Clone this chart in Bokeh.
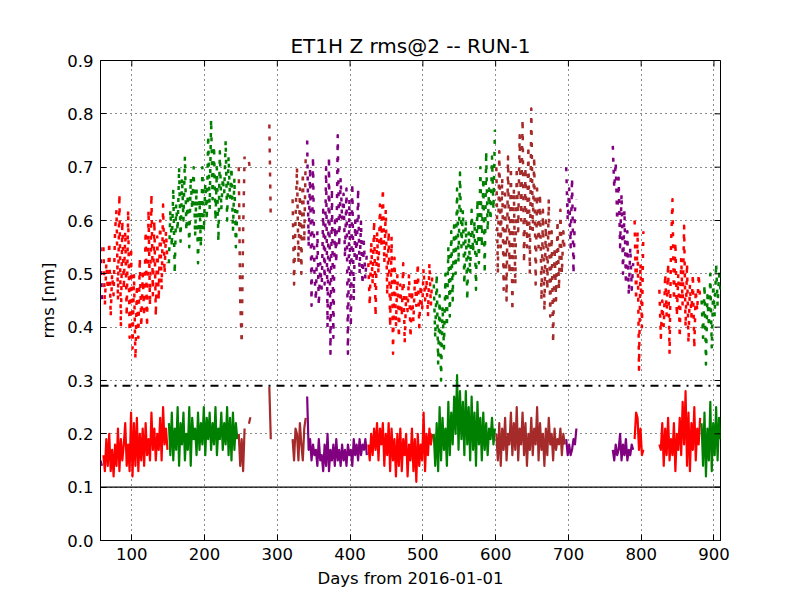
from math import pi

from bokeh.plotting import figure
from bokeh.models import Span, FixedTicker, PrintfTickFormatter, Range1d
from bokeh.embed import file_html
from bokeh.resources import INLINE

TITLE = "ET1H Z rms@2 -- RUN-1"
X_LABEL = "Days from 2016-01-01"
Y_LABEL = "rms [nm]"
x_ticks = [100, 200, 300, 400, 500, 600, 700, 800, 900]
y_ticks = [0.0, 0.1, 0.2, 0.3, 0.4, 0.5, 0.6, 0.7, 0.8, 0.9]
x_limits = (57, 909)
y_limits = (0.0, 0.9)
req_level = 0.1      # solid black line
warn_level = 0.29    # dash-dot black line
DAY_STEP = 2

RED, GREEN, BROWN, PURPLE = "#ff0000", "#008000", "#a52a2a", "#800080"

# --- segment start days (days from 2016-01-01) ---
purple_a_start, red_b_start, green_c_start = 57, 61, 151
brown_d1_start, brown_d2_start, brown_d3_start = 247, 261, 289
brown_e_start, purple_f_start, red_g_start = 321, 341, 425
green_h_start, brown_i_start, purple_j_start = 515, 601, 697
purple_k_start, red_l_start, red_m_start, green_n_start = 761, 791, 825, 883

# --- upper (dashed) series ---
purple_a_up = [0.55, 0.45]
red_b_up = [0.55, 0.44, 0.52, 0.47, 0.56, 0.42, 0.50, 0.46, 0.58,
            0.62, 0.45, 0.65, 0.40, 0.60, 0.47,
            0.58, 0.42, 0.62, 0.38, 0.55,
            0.36, 0.50, 0.34, 0.48, 0.38, 0.53, 0.40, 0.50,
            0.42, 0.58, 0.40, 0.62, 0.44, 0.65, 0.46, 0.60,
            0.42, 0.57, 0.45, 0.60, 0.47, 0.63, 0.50, 0.58, 0.52]
green_c_up = [0.52, 0.62, 0.55, 0.66, 0.50, 0.63, 0.58, 0.70, 0.56, 0.68,
              0.60, 0.72, 0.58, 0.65, 0.55, 0.68, 0.62, 0.70, 0.57, 0.66,
              0.52, 0.64, 0.55, 0.70, 0.58, 0.67, 0.60, 0.76, 0.62, 0.79,
              0.64, 0.74, 0.60, 0.70, 0.56, 0.73, 0.62, 0.68, 0.65, 0.75,
              0.60, 0.72, 0.64, 0.70, 0.58, 0.68, 0.55, 0.62]
brown_d1_up = [0.70, 0.45, 0.37, 0.58, 0.72]
brown_d2_up = [0.71, 0.69]
brown_d3_up = [0.78, 0.60]
brown_e_up = [0.64, 0.48, 0.60, 0.70, 0.52, 0.66, 0.50, 0.69, 0.56, 0.72]
purple_f_up = [0.75, 0.55, 0.70, 0.44, 0.72,
               0.50, 0.45, 0.58, 0.44, 0.52, 0.47, 0.62,
               0.48, 0.70, 0.40, 0.72, 0.35, 0.66, 0.38, 0.60,
               0.52, 0.76, 0.55, 0.68, 0.60, 0.65, 0.53, 0.66,
               0.35, 0.64, 0.40, 0.67, 0.45, 0.60, 0.52, 0.66,
               0.50, 0.60, 0.48, 0.56, 0.49, 0.54]
red_g_up = [0.52, 0.44, 0.56, 0.48, 0.60, 0.42, 0.58, 0.50, 0.63, 0.55,
            0.66, 0.52, 0.62, 0.46, 0.58, 0.40, 0.57, 0.35, 0.53, 0.40,
            0.50, 0.38, 0.48, 0.42, 0.52, 0.37, 0.46, 0.43, 0.50, 0.38,
            0.47, 0.41, 0.49, 0.44, 0.52, 0.40, 0.48, 0.43, 0.51, 0.45,
            0.49, 0.42, 0.52, 0.44, 0.50]
green_h_up = [0.48, 0.38, 0.50, 0.33, 0.46, 0.30, 0.44, 0.36, 0.50, 0.40,
              0.55, 0.42, 0.58, 0.45, 0.60, 0.50, 0.66, 0.52, 0.69, 0.55,
              0.62, 0.48, 0.60, 0.45, 0.58, 0.50, 0.62, 0.54, 0.60, 0.47,
              0.64, 0.52, 0.70, 0.55, 0.68, 0.50, 0.73, 0.58, 0.66, 0.60,
              0.72, 0.62, 0.77]
brown_i_up = [0.70, 0.50, 0.73, 0.55, 0.68, 0.47, 0.66,
              0.45, 0.72, 0.50, 0.70, 0.43, 0.66, 0.48, 0.70,
              0.58, 0.76, 0.60, 0.79, 0.52, 0.70, 0.55, 0.74,
              0.50, 0.81, 0.58, 0.72, 0.48, 0.66, 0.55, 0.65,
              0.45, 0.62, 0.43, 0.60, 0.47, 0.64, 0.42, 0.58,
              0.37, 0.55, 0.45, 0.60, 0.47, 0.62, 0.50, 0.58, 0.54]
purple_j_up = [0.70, 0.60, 0.66, 0.55, 0.68, 0.50, 0.62, 0.64]
purple_k_up = [0.74, 0.66, 0.71, 0.60, 0.68, 0.55, 0.65, 0.50, 0.62, 0.48,
               0.58, 0.46, 0.55, 0.47, 0.52]
red_l_up = [0.60, 0.45, 0.58, 0.32, 0.52, 0.40, 0.58]
red_m_up = [0.47, 0.38, 0.45, 0.40, 0.50, 0.42, 0.52, 0.35, 0.55, 0.64,
            0.45, 0.56, 0.42, 0.50, 0.38, 0.53, 0.44, 0.59, 0.40, 0.52,
            0.37, 0.48, 0.42, 0.50, 0.36, 0.47, 0.43, 0.50, 0.45]
green_n_up = [0.45, 0.38, 0.48, 0.33, 0.46, 0.40, 0.50, 0.36, 0.48, 0.42,
              0.52, 0.44, 0.50, 0.47]

# --- lower (solid) series ---
purple_a_lo = [0.15, 0.14]
red_b_lo = [0.16, 0.13, 0.19, 0.14, 0.20, 0.13, 0.17, 0.12, 0.18,
            0.14, 0.21, 0.13, 0.19, 0.15, 0.18,
            0.22, 0.14, 0.18, 0.13, 0.24,
            0.12, 0.22, 0.14, 0.23, 0.13, 0.20, 0.15, 0.21,
            0.14, 0.22, 0.16, 0.19, 0.15, 0.24, 0.17, 0.21,
            0.15, 0.20, 0.17, 0.23, 0.15, 0.25, 0.18, 0.21, 0.17]
green_c_lo = [0.22, 0.16, 0.24, 0.15, 0.21, 0.17, 0.25, 0.14, 0.22, 0.18,
              0.24, 0.15, 0.20, 0.17, 0.25, 0.14, 0.23, 0.19, 0.21, 0.16,
              0.24, 0.17, 0.22, 0.18, 0.25, 0.16, 0.23, 0.19, 0.24, 0.17,
              0.22, 0.18, 0.25, 0.16, 0.21, 0.19, 0.24, 0.17, 0.22, 0.18,
              0.25, 0.16, 0.23, 0.15, 0.24, 0.17, 0.22, 0.19]
brown_d1_lo = [0.20, 0.14, 0.19, 0.13, 0.21]
brown_d2_lo = [0.219, 0.231]
brown_d3_lo = [0.288, 0.19]
brown_e_lo = [0.19, 0.15, 0.21, 0.20, 0.15, 0.22, 0.18, 0.15, 0.21, 0.23]
purple_f_lo = [0.27, 0.17, 0.19, 0.15, 0.18,
               0.16, 0.17, 0.14, 0.19, 0.15, 0.16, 0.13,
               0.18, 0.14, 0.20, 0.13, 0.17, 0.15, 0.18, 0.14,
               0.19, 0.15, 0.17, 0.14, 0.18, 0.15, 0.17, 0.14,
               0.18, 0.16, 0.17, 0.14, 0.19, 0.16, 0.18, 0.15,
               0.19, 0.16, 0.18, 0.17, 0.19, 0.16]
red_g_lo = [0.18, 0.15, 0.20, 0.16, 0.21, 0.17, 0.22, 0.15, 0.21, 0.18,
            0.22, 0.14, 0.20, 0.16, 0.22, 0.13, 0.21, 0.15, 0.19, 0.12,
            0.20, 0.14, 0.21, 0.13, 0.19, 0.16, 0.20, 0.12, 0.18, 0.15,
            0.21, 0.13, 0.19, 0.11, 0.20, 0.14, 0.18, 0.15, 0.24, 0.13,
            0.20, 0.16, 0.21, 0.18, 0.20]
green_h_lo = [0.20, 0.14, 0.22, 0.13, 0.25, 0.15, 0.23, 0.17, 0.21, 0.14,
              0.26, 0.16, 0.24, 0.18, 0.27, 0.20, 0.31, 0.17, 0.28, 0.19,
              0.26, 0.16, 0.28, 0.18, 0.25, 0.15, 0.27, 0.17, 0.24, 0.14,
              0.26, 0.18, 0.23, 0.15, 0.24, 0.17, 0.22, 0.16, 0.21, 0.19,
              0.23, 0.18, 0.21]
brown_i_lo = [0.20, 0.15, 0.22, 0.14, 0.21, 0.17, 0.23, 0.15, 0.20, 0.18,
              0.24, 0.16, 0.22, 0.17, 0.25, 0.15, 0.21, 0.18, 0.24, 0.16,
              0.22, 0.14, 0.20, 0.17, 0.23, 0.16, 0.21, 0.18, 0.25, 0.15,
              0.22, 0.17, 0.20, 0.14, 0.21, 0.16, 0.23, 0.18, 0.20, 0.15,
              0.21, 0.17, 0.19, 0.18, 0.21, 0.16, 0.20, 0.18]
purple_j_lo = [0.19, 0.16, 0.18, 0.16, 0.17, 0.19, 0.18, 0.21]
purple_k_lo = [0.17, 0.15, 0.18, 0.16, 0.17, 0.20, 0.15, 0.18, 0.16, 0.19,
               0.15, 0.17, 0.16, 0.18, 0.17]
red_l_lo = [0.19, 0.24, 0.23, 0.17, 0.21, 0.16, 0.17]
red_m_lo = [0.18, 0.17, 0.22, 0.14, 0.21, 0.16, 0.23, 0.15, 0.19, 0.16,
            0.22, 0.13, 0.20, 0.17, 0.23, 0.16, 0.26, 0.18, 0.28, 0.14,
            0.24, 0.13, 0.22, 0.17, 0.25, 0.15, 0.21, 0.18, 0.23]
green_n_lo = [0.22, 0.14, 0.24, 0.12, 0.21, 0.15, 0.26, 0.13, 0.22, 0.16,
              0.25, 0.15, 0.23, 0.19]

segments = [
    (purple_a_start, PURPLE, purple_a_up, purple_a_lo),
    (red_b_start, RED, red_b_up, red_b_lo),
    (green_c_start, GREEN, green_c_up, green_c_lo),
    (brown_d1_start, BROWN, brown_d1_up, brown_d1_lo),
    (brown_d2_start, BROWN, brown_d2_up, brown_d2_lo),
    (brown_d3_start, BROWN, brown_d3_up, brown_d3_lo),
    (brown_e_start, BROWN, brown_e_up, brown_e_lo),
    (purple_f_start, PURPLE, purple_f_up, purple_f_lo),
    (red_g_start, RED, red_g_up, red_g_lo),
    (green_h_start, GREEN, green_h_up, green_h_lo),
    (brown_i_start, BROWN, brown_i_up, brown_i_lo),
    (purple_j_start, PURPLE, purple_j_up, purple_j_lo),
    (purple_k_start, PURPLE, purple_k_up, purple_k_lo),
    (red_l_start, RED, red_l_up, red_l_lo),
    (red_m_start, RED, red_m_up, red_m_lo),
    (green_n_start, GREEN, green_n_up, green_n_lo),
]

FONT = "DejaVu Sans"

p = figure(frame_width=620, frame_height=480,
           min_border_left=100, min_border_right=64,
           min_border_top=60, min_border_bottom=48,
           x_range=Range1d(*x_limits), y_range=Range1d(*y_limits),
           title=TITLE, x_axis_label=X_LABEL, y_axis_label=Y_LABEL,
           output_backend="svg", toolbar_location=None)

p.title.align = "center"
p.title.text_font = FONT
p.title.text_font_size = "20px"
p.title.text_font_style = "normal"
p.title.text_color = "black"
p.title.standoff = 6

# reference lines
p.add_layout(Span(location=req_level, dimension="width",
                  line_color="black", line_width=1.2))
p.add_layout(Span(location=warn_level, dimension="width",
                  line_color="black", line_width=2, line_dash="8 6 2 6"))

for start, color, up, lo in segments:
    xs_up = [start + DAY_STEP * i for i in range(len(up))]
    xs_lo = [start + DAY_STEP * i for i in range(len(lo))]
    p.line(xs_up, up, line_color=color, line_width=2.5,
           line_dash="4 8", line_join="round")
    p.line(xs_lo, lo, line_color=color, line_width=2.2, line_join="round")

# inward tick marks on the top and right edges (clipped to the frame)
p.scatter(x=x_ticks, y=[y_limits[1]] * len(x_ticks), marker="dash",
          angle=pi / 2, size=12, line_color="black", line_width=1)
p.scatter(x=[x_limits[1]] * len(y_ticks), y=y_ticks, marker="dash",
          size=12, line_color="black", line_width=1)

p.xaxis.ticker = FixedTicker(ticks=x_ticks)
p.yaxis.ticker = FixedTicker(ticks=y_ticks)
p.yaxis.formatter = PrintfTickFormatter(format="%.1f")

for ax in p.xaxis + p.yaxis:
    ax.major_tick_in = 6
    ax.major_tick_out = 0
    ax.minor_tick_line_color = None
    ax.axis_line_color = "black"
    ax.major_tick_line_color = "black"
    ax.major_label_text_font = FONT
    ax.major_label_text_font_size = "16.5px"
    ax.major_label_text_color = "black"
    ax.axis_label_text_font = FONT
    ax.axis_label_text_font_size = "16.5px"
    ax.axis_label_text_font_style = "normal"
    ax.axis_label_text_color = "black"
    ax.major_label_standoff = 7
    ax.axis_label_standoff = 6

p.grid.grid_line_color = "black"
p.grid.grid_line_dash = "1 4"
p.grid.grid_line_width = 1
p.grid.grid_line_alpha = 0.9
p.outline_line_color = "black"
p.outline_line_width = 1

open("out.html", "w").write(file_html(p, INLINE))
